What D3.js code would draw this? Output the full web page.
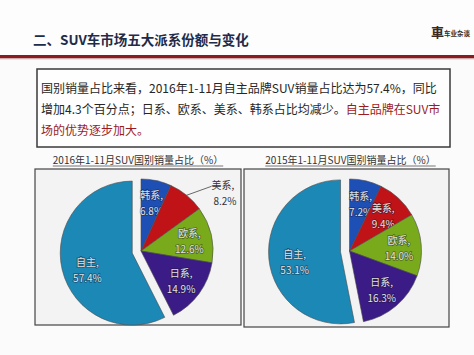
<!DOCTYPE html>
<html><head><meta charset="utf-8">
<script src="https://cdn.jsdelivr.net/npm/d3@7"></script>
<style>
html,body{margin:0;padding:0;background:#fbfbfb;}
svg{display:block;font-family:"Noto Sans CJK SC","Noto Sans",sans-serif;}
</style></head>
<body>
<svg id="c" width="474" height="355"></svg>
<script>
const categories = ["韩系","美系","欧系","日系","自主"];
const values2016 = [6.8, 8.2, 12.6, 14.9, 57.4];
const values2015 = [7.2, 9.4, 14.0, 16.3, 53.1];
const outside2016 = [false, true, false, false, false];
const outside2015 = [false, false, false, false, false];
const sliceColors = ["#1d4fb5", "#c01318", "#79aa1c", "#3b1b86", "#1b88b6"];
const headerTitle = "二、SUV车市场五大派系份额与变化";
const chartTitles = ["2016年1-11月SUV国别销量占比（%）", "2015年1-11月SUV国别销量占比（%）"];
const bodyLines = [
  [["国别销量占比来看，2016年1-11月自主品牌SUV销量占比达为57.4%，同比", false]],
  [["增加4.3个百分点；日系、欧系、美系、韩系占比均减少。", false], ["自主品牌在SUV市", true]],
  [["场的优势逐步加大。", true]]
];

const svg = d3.select("#c");

// header
svg.append("rect").attr("x",0).attr("y",0).attr("width",474).attr("height",56).attr("fill","#fdfdfd");
svg.append("text").attr("x",33).attr("y",45).attr("font-size",13.5).attr("font-weight","bold")
  .attr("fill","#1e2b4a").text(headerTitle);
svg.append("rect").attr("x",0).attr("y",55).attr("width",474).attr("height",3.5).attr("fill","#8a1b1e");
svg.append("rect").attr("x",0).attr("y",58.5).attr("width",474).attr("height",1).attr("fill","#d9c9c9");
// logo
svg.append("text").attr("x",431).attr("y",37).attr("font-size",13).attr("font-weight","bold")
  .attr("fill","#3a2a22").attr("font-family","'Noto Sans CJK TC',serif").text("車");
svg.append("text").attr("x",444).attr("y",36).attr("font-size",6.5).attr("font-weight","bold")
  .attr("fill","#3a2a22").text("车业杂谈");

// text box
svg.append("rect").attr("x",37).attr("y",69).attr("width",413).attr("height",78)
  .attr("fill","#fefefe").attr("stroke","#3a3a3a").attr("stroke-width",1.5);
const baselines = [93, 114, 135];
bodyLines.forEach((segs,i)=>{
  const t = svg.append("text").attr("x",41).attr("y",baselines[i]).attr("font-size",12);
  segs.forEach(([s,red])=>{
    t.append("tspan").attr("fill", red ? "#9b1b1f" : "#262626").text(s);
  });
});

// pies
const charts = [
  {values: values2016, outside: outside2016, box:[35,169,206,156], title: chartTitles[0]},
  {values: values2015, outside: outside2015, box:[244,169,205,158], title: chartTitles[1]}
];
const R = 72, explode = 9;
charts.forEach(ch=>{
  const [bx,by,bw,bh] = ch.box;
  const g = svg.append("g");
  const tcx = bx+bw/2+(bx>200?4:0);
  const tt = g.append("text").attr("x",tcx).attr("y",by-5).attr("text-anchor","middle")
    .attr("font-size",10).attr("fill","#333").text(ch.title);
  const tw = tt.node().getComputedTextLength();
  g.append("line").attr("x1",tcx-tw/2).attr("x2",tcx+tw/2)
    .attr("y1",by-3).attr("y2",by-3).attr("stroke","#555").attr("stroke-width",0.8);
  g.append("rect").attr("x",bx).attr("y",by).attr("width",bw).attr("height",bh)
    .attr("fill","#f3f3f3").attr("stroke","#444").attr("stroke-width",1.2);
  const cx = bx + bw/2 + 3, cy = 251;
  const pie = d3.pie().sort(null).value(d=>d.v);
  const data = pie(categories.map((c,i)=>({c, v: ch.values[i], out: ch.outside[i], color: sliceColors[i]})));
  const arc = d3.arc().innerRadius(0).outerRadius(R);
  const labelArc = d3.arc().innerRadius(R*0.69).outerRadius(R*0.69);
  const pg = g.append("g").attr("transform",`translate(${cx},${cy})`);
  data.forEach((d,i)=>{
    const mid = (d.startAngle + d.endAngle)/2;
    const isMain = i === data.length - 1;
    const off = isMain ? explode : 0;
    const ox = Math.sin(mid)*off, oy = -Math.cos(mid)*off;
    const sg = pg.append("g").attr("transform",`translate(${ox},${oy})`);
    sg.append("path").attr("d",arc(d)).attr("fill",d.data.color)
      .attr("stroke","#4a4a4a").attr("stroke-width",0.6);
    const lab = d.data.c + ",";
    const val = d3.format(".1f")(d.data.v) + "%";
    if (d.data.out) {
      const p0 = [Math.sin(mid)*R, -Math.cos(mid)*R];
      const p1 = [Math.sin(mid)*R + 25, -Math.cos(mid)*R - 9];
      sg.append("polyline").attr("points",[p0,p1].map(p=>p.join(",")).join(" "))
        .attr("fill","none").attr("stroke","#444").attr("stroke-width",0.8);
      sg.append("text").attr("x",p1[0]).attr("y",p1[1]+3).attr("font-size",10).attr("fill","#333").text(lab);
      sg.append("text").attr("x",p1[0]+25).attr("y",p1[1]+19).attr("text-anchor","end")
        .attr("font-size",10).attr("fill","#333").text(val);
    } else {
      const [lx,ly] = isMain ? [Math.sin(mid)*R*0.64, -Math.cos(mid)*R*0.64 + 5] : labelArc.centroid(d);
      [[lab,-3],[val,13]].forEach(([s,dy])=>{
        sg.append("text").attr("x",lx).attr("y",ly+dy).attr("text-anchor","middle")
          .attr("font-size",10).attr("fill","#e2e2e2").attr("stroke","rgba(20,20,40,0.45)")
          .attr("stroke-width",1.6).attr("paint-order","stroke").text(s);
      });
    }
  });
});
</script>
</body></html>
